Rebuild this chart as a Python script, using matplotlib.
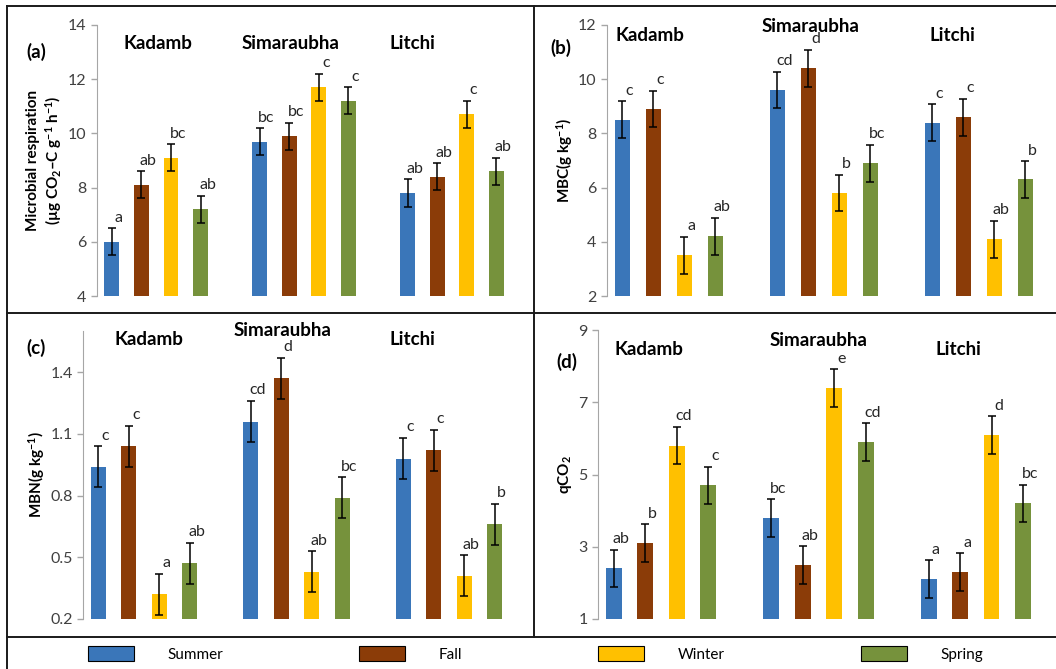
import numpy as np
import matplotlib
matplotlib.use("Agg")
import matplotlib.pyplot as plt
from matplotlib.lines import Line2D

plt.rcParams['font.family'] = ['Lato', 'DejaVu Sans']
plt.rcParams['mathtext.fontset'] = 'custom'
plt.rcParams['mathtext.rm'] = 'Lato:bold'
plt.rcParams['mathtext.it'] = 'Lato:bold:italic'
plt.rcParams['mathtext.bf'] = 'Lato:bold'

W, H = 1056, 669

species = ["Kadamb", "Simaraubha", "Litchi"]
seasons = ["Summer", "Fall", "Winter", "Spring"]
colors = ["#3A76B9", "#8B3C08", "#FFC000", "#76923C"]

# values per season, ordered Kadamb, Simaraubha, Litchi
resp = {"Summer": [6.0, 9.7, 7.8], "Fall": [8.1, 9.9, 8.4],
        "Winter": [9.1, 11.7, 10.7], "Spring": [7.2, 11.2, 8.6]}
resp_err = 0.5
resp_let = {"Summer": ["a", "bc", "ab"], "Fall": ["ab", "bc", "ab"],
            "Winter": ["bc", "c", "c"], "Spring": ["ab", "c", "ab"]}

mbc = {"Summer": [8.5, 9.6, 8.4], "Fall": [8.9, 10.4, 8.6],
       "Winter": [3.5, 5.8, 4.1], "Spring": [4.2, 6.9, 6.3]}
mbc_err = 0.68
mbc_let = {"Summer": ["c", "cd", "c"], "Fall": ["c", "d", "c"],
           "Winter": ["a", "b", "ab"], "Spring": ["ab", "bc", "b"]}

mbn = {"Summer": [0.94, 1.16, 0.98], "Fall": [1.04, 1.37, 1.02],
       "Winter": [0.32, 0.43, 0.41], "Spring": [0.47, 0.79, 0.66]}
mbn_err = 0.1
mbn_let = {"Summer": ["c", "cd", "c"], "Fall": ["c", "d", "c"],
           "Winter": ["a", "ab", "ab"], "Spring": ["ab", "bc", "b"]}

qco2 = {"Summer": [2.4, 3.8, 2.1], "Fall": [3.1, 2.5, 2.3],
        "Winter": [5.8, 7.4, 6.1], "Spring": [4.7, 5.9, 4.2]}
qco2_err = 0.52
qco2_let = {"Summer": ["ab", "bc", "a"], "Fall": ["b", "ab", "a"],
            "Winter": ["cd", "e", "d"], "Spring": ["c", "cd", "bc"]}


def box(left, top, right, bottom):
    return [left / W, 1 - bottom / H, (right - left) / W, (bottom - top) / H]


fig = plt.figure(figsize=(W / 100, H / 100), dpi=100)

panels = [
    dict(rect=box(97, 25, 514, 296), data=resp, err=resp_err, let=resp_let,
         ylim=(4, 14), ticks=[4, 6, 8, 10, 12, 14],
         titles=[(1.55, 0.93), (6.05, 0.93), (10.15, 0.93)]),
    dict(rect=box(607, 25, 1044, 296), data=mbc, err=mbc_err, let=mbc_let,
         ylim=(2, 12), ticks=[2, 4, 6, 8, 10, 12],
         titles=[(0.9, 0.963), (6.08, 0.996), (10.65, 0.963)]),
    dict(rect=box(83, 331, 513, 619), data=mbn, err=mbn_err, let=mbn_let,
         ylim=(0.2, 1.6), ticks=[0.2, 0.5, 0.8, 1.1, 1.4],
         titles=[(1.67, 0.969), (6.03, 1.0), (10.3, 0.969)]),
    dict(rect=box(598, 330, 1042, 619), data=qco2, err=qco2_err, let=qco2_let,
         ylim=(1, 9), ticks=[1, 3, 5, 7, 9],
         titles=[(1.11, 0.934), (6.5, 0.965), (10.95, 0.934)]),
]

handles = []
for p in panels:
    ax = fig.add_axes(p["rect"])
    for i, s in enumerate(seasons):
        x = np.arange(3) * 5 + i
        vals = p["data"][s]
        b = ax.bar(x, vals, width=0.5, color=colors[i],
                   yerr=p["err"], capsize=3,
                   error_kw=dict(ecolor="black", elinewidth=1.1, capthick=1.1))
        if len(handles) < 4:
            handles.append(b)
        for xi, v, t in zip(x, vals, p["let"][s]):
            ax.annotate(t, (xi, v + p["err"]), xytext=(5, 2.5),
                        textcoords="offset points", ha="center", va="bottom",
                        fontsize=11.5, color="#262626")
    ax.set_xlim(-0.5, 13.6)
    ax.set_ylim(*p["ylim"])
    ax.set_yticks(p["ticks"])
    ax.set_xticks([])
    for sp in ["top", "right", "bottom"]:
        ax.spines[sp].set_visible(False)
    ax.spines["left"].set_color("#A6A6A6")
    ax.tick_params(axis="y", colors="#A6A6A6", labelcolor="#404040",
                   labelsize=11.5, length=4, width=1)
    ax.patch.set_alpha(0)
    for name, (tx, ty) in zip(species, p["titles"]):
        ax.text(tx, ty, name, transform=ax.get_xaxis_transform(),
                ha="center", va="center", fontsize=13.5, fontweight="bold")

# panel letters
for lab, px, py in [("(a)", 36, 52), ("(b)", 561, 48), ("(c)", 36, 348), ("(d)", 567, 362)]:
    fig.text(px / W, 1 - py / H, lab, ha="center", va="center",
             fontsize=13.5, fontweight="bold")

# y labels
ylab = dict(rotation=90, ha="center", va="center", fontsize=11, fontweight="bold")
fig.text(45 / W, 1 - 160 / H,
         "Microbial respiration\n(\u00b5g CO$_2$\u2013C g$^{-1}$ h$^{-1}$)",
         linespacing=1.2, **ylab)
fig.text(565 / W, 1 - 160 / H, "MBC(g kg$^{-1}$)", **ylab)
fig.text(37 / W, 1 - 475 / H, "MBN(g kg$^{-1}$)", **ylab)
fig.text(565 / W, 1 - 475 / H, "qCO$_2$", **ylab)

# frame lines
lk = dict(color="#1a1a1a", lw=1.4)
fig.add_artist(Line2D([7 / W, 1], [1 - 6 / H] * 2, **lk))
fig.add_artist(Line2D([7 / W] * 2, [1 - 6 / H, 0], **lk))
fig.add_artist(Line2D([7 / W, 1], [1 - 313 / H] * 2, **lk))
fig.add_artist(Line2D([534 / W] * 2, [1 - 6 / H, 1 - 637 / H], **lk))
fig.add_artist(Line2D([7 / W, 1], [1 - 637 / H] * 2, **lk))

leg = fig.legend(handles, seasons, ncol=4, mode="expand",
                 bbox_to_anchor=(88 / W, 1 - 668 / H, 895 / W, 28 / H),
                 loc="center", frameon=False, fontsize=11,
                 handlelength=3.0, handleheight=1.15, handletextpad=2.2,
                 borderaxespad=0, borderpad=0)
for h in leg.legend_handles:
    h.set_edgecolor("black")
    h.set_linewidth(0.8)

fig.savefig("out.png", dpi=100)
